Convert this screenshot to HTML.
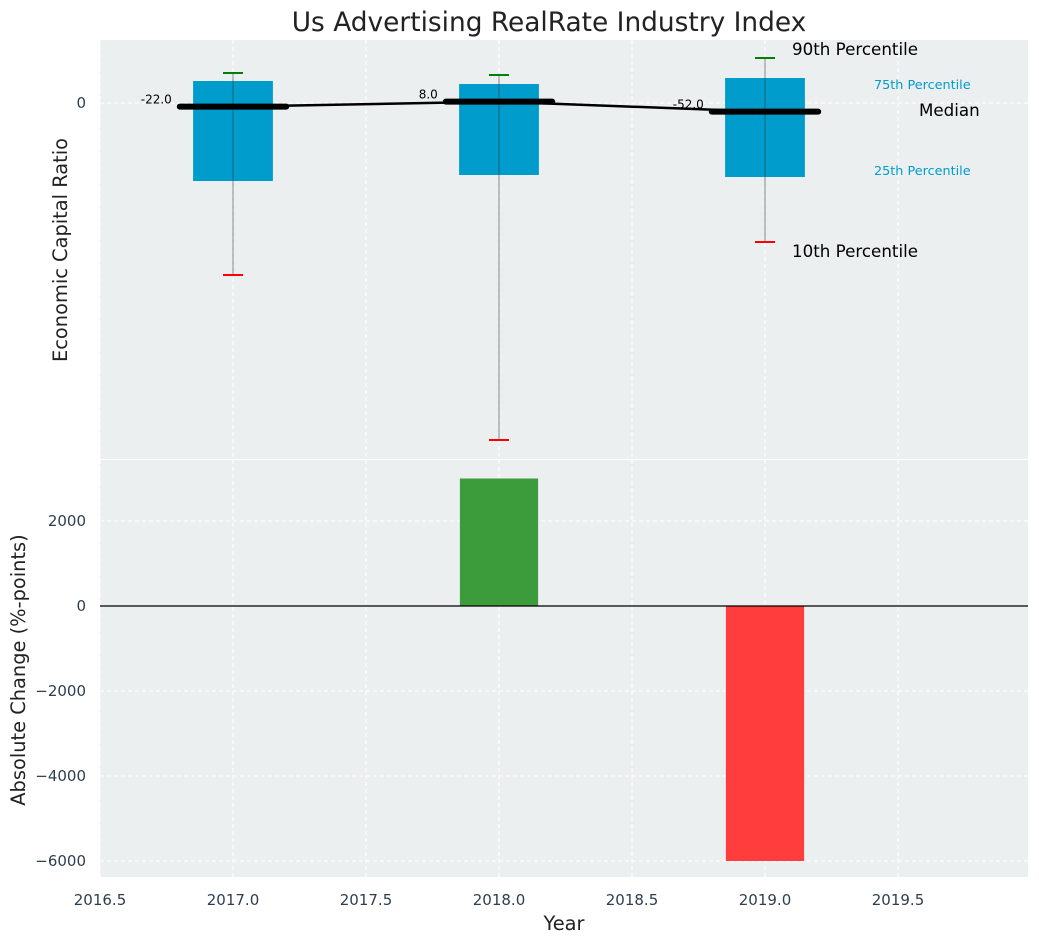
<!DOCTYPE html>
<html><head><meta charset="utf-8"><style>
body{margin:0;background:#fff;width:1039px;height:942px;overflow:hidden}
svg{font-family:"DejaVu Sans","Liberation Sans",sans-serif}
</style></head><body>
<svg id="c" width="1039" height="942"></svg>
<script>
const years=[2017,2018,2019];
const p10=[-1032,-2022,-834];
const q25=[-468,-432,-444];
const medians=[-22,8,-52];
const q75=[132,114,150];
const p90=[180,168,270];
const changes=[0,3000,-6000];
const xTicks=[2016.5,2017,2017.5,2018,2018.5,2019,2019.5];
const topTicks=[0];
const botTicks=[2000,0,-2000,-4000,-6000];
const NS="http://www.w3.org/2000/svg";
const svg=document.getElementById('c');
function el(t,a,txt){const e=document.createElementNS(NS,t);for(const k in a)e.setAttribute(k,a[k]);if(txt!==undefined)e.textContent=txt;svg.appendChild(e);return e;}
const L=100,R=1028,T1=40,B1=459,T2=460,B2=877;
const x=v=>L+(v-2016.5)*266;
const y1=v=>103-v/6;
const y2=v=>606-v*0.0425;
let e;
e=el('rect',{x:L,y:T1,width:R-L,height:B1-T1,fill:'#ebeff0'});

e=el('rect',{x:L,y:T2,width:R-L,height:B2-T2,fill:'#ebeff0'});

xTicks.forEach(t=>{
 [[T1,B1],[T2,B2]].forEach(r=>{e=el('line',{x1:x(t),x2:x(t),y1:r[0],y2:r[1],stroke:'#fff','stroke-dasharray':'4,3','stroke-width':1});
 });
 e=el('text',{x:x(t),y:905,'text-anchor':'middle','font-size':15,fill:'#2d3e50'},t.toFixed(1));
 
});
topTicks.forEach(t=>{
 e=el('line',{x1:L,x2:R,y1:y1(t),y2:y1(t),stroke:'#fff','stroke-dasharray':'4,3'});
 
 e=el('text',{x:86,y:y1(t)+5,'text-anchor':'end','font-size':15,fill:'#2d3e50'},String(t));
 
});
botTicks.forEach(t=>{
 e=el('line',{x1:L,x2:R,y1:y2(t),y2:y2(t),stroke:'#fff','stroke-dasharray':'4,3'});
 
 e=el('text',{x:86,y:y2(t)+5,'text-anchor':'end','font-size':15,fill:'#2d3e50'},t<0?'\u2212'+(-t):String(t));
 
});
years.forEach((yr,i)=>{
 const cx=x(yr);
 e=el('rect',{x:x(yr-0.15),y:y1(q75[i]),width:x(yr+0.15)-x(yr-0.15),height:y1(q25[i])-y1(q75[i]),fill:'#009ccc'});
 
 e=el('line',{x1:cx,x2:cx,y1:y1(p90[i]),y2:y1(p10[i]),stroke:'#333','stroke-width':1,opacity:0.55});
 
 e=el('line',{x1:cx-10,x2:cx+10,y1:y1(p90[i]),y2:y1(p90[i]),stroke:'green','stroke-width':2});
 
 e=el('line',{x1:cx-10,x2:cx+10,y1:y1(p10[i]),y2:y1(p10[i]),stroke:'red','stroke-width':2});
 
});
e=el('polyline',{points:years.map((yr,i)=>x(yr)+','+y1(medians[i])).join(' '),fill:'none',stroke:'#000','stroke-width':2.5});

years.forEach((yr,i)=>{
 e=el('line',{x1:x(yr-0.2),x2:x(yr+0.2),y1:y1(medians[i]),y2:y1(medians[i]),stroke:'#000','stroke-width':6,'stroke-linecap':'round'});
 
 e=el('text',{x:x(yr-0.23),y:y1(medians[i])-3,'text-anchor':'end','font-size':12,fill:'#000'},medians[i].toFixed(1));
 
});
[['90th Percentile',792,55,16.7,'#000'],['75th Percentile',874,89,12.8,'#009ccc'],['Median',919,116,16.7,'#000'],['25th Percentile',874,175,12.8,'#009ccc'],['10th Percentile',792,257,16.7,'#000']].forEach(a=>{
 e=el('text',{x:a[1],y:a[2],'font-size':a[3],fill:a[4]},a[0]);
 
});
years.forEach((yr,i)=>{
 const v=changes[i];if(v===0)return;
 e=el('rect',{x:x(yr-0.147),y:Math.min(y2(v),y2(0)),width:x(yr+0.147)-x(yr-0.147),height:Math.abs(y2(v)-y2(0)),fill:v>0?'#3c9c3c':'#ff3d3d'});
 
});
e=el('line',{x1:L,x2:R,y1:y2(0),y2:y2(0),stroke:'#000','stroke-width':1.2});

e=el('text',{x:549,y:31,'text-anchor':'middle','font-size':26.4,fill:'#222'},'Us Advertising RealRate Industry Index');

e=el('text',{x:564,y:930,'text-anchor':'middle','font-size':19.4,fill:'#222'},'Year');

e=el('text',{x:0,y:0,'text-anchor':'middle','font-size':19.4,fill:'#222',transform:'translate(67,250) rotate(-90)'},'Economic Capital Ratio');

e=el('text',{x:0,y:0,'text-anchor':'middle','font-size':19.4,fill:'#222',transform:'translate(25,670) rotate(-90)'},'Absolute Change (%-points)');

</script>
</body></html>
